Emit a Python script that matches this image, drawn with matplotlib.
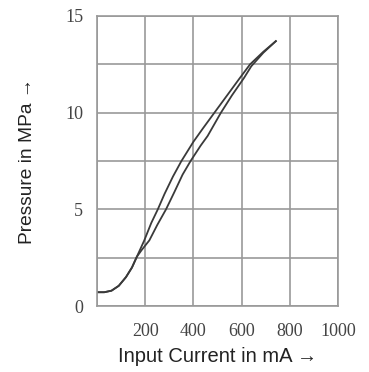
import numpy as np
import matplotlib
matplotlib.use('Agg')
import matplotlib.pyplot as plt

# Hysteresis curves (current in mA, pressure in MPa)
rise_x = [0, 30, 60, 90, 120, 145, 165, 185, 217, 250, 286, 321, 355, 388,
          430, 459, 514, 560, 610, 640, 690, 742]
rise_y = [0.72, 0.72, 0.80, 1.05, 1.5, 2.0, 2.55, 2.9, 3.4, 4.2, 5.0, 5.9,
          6.8, 7.5, 8.3, 8.8, 10.0, 10.9, 11.8, 12.4, 13.1, 13.7]
fall_x = [0, 30, 60, 90, 120, 145, 165, 196, 225, 252, 280, 315, 350, 400,
          440, 487, 540, 590, 635, 690, 742]
fall_y = [0.72, 0.72, 0.80, 1.05, 1.5, 2.0, 2.55, 3.4, 4.3, 5.0, 5.8, 6.7,
          7.5, 8.5, 9.2, 10.0, 10.9, 11.75, 12.5, 13.15, 13.7]

x_ticks = [200, 400, 600, 800, 1000]
y_ticks = [0, 5, 10, 15]

fig = plt.figure(figsize=(3.69, 3.72), dpi=100)
ax = fig.add_axes([0.263, 0.177, 0.653, 0.78])

ax.plot(rise_x, rise_y, color='#3a3a3a', lw=1.3)
ax.plot(fall_x, fall_y, color='#3a3a3a', lw=1.3)

ax.set_xlim(0, 1000)
ax.set_ylim(0, 15)
ax.set_xticks(np.arange(0, 1001, 200))
ax.set_yticks(np.arange(0, 15.1, 2.5))
ax.set_xticklabels([''] + [str(t) for t in x_ticks])
ax.set_yticklabels([str(int(t)) if t in y_ticks else '' for t in np.arange(0, 15.1, 2.5)])
ax.grid(True, color='#999999', lw=1.2)
ax.tick_params(length=0, pad=10)
for lab in ax.get_xticklabels() + ax.get_yticklabels():
    lab.set_family('Liberation Serif')
    lab.set_fontsize(13)
    lab.set_color('#444444')
ax.tick_params(axis='x', pad=12)
for s in ax.spines.values():
    s.set_color('#999999')
    s.set_linewidth(1.2)

lab_font = dict(family=['Liberation Sans', 'DejaVu Sans'], color='#222222')
ax.set_xlabel('Input Current in mA \u2192', labelpad=5, fontsize=14.5, **lab_font)
ax.set_ylabel('Pressure in MPa \u2192', labelpad=21, fontsize=13.8, **lab_font)

fig.savefig('out.png', dpi=100)
